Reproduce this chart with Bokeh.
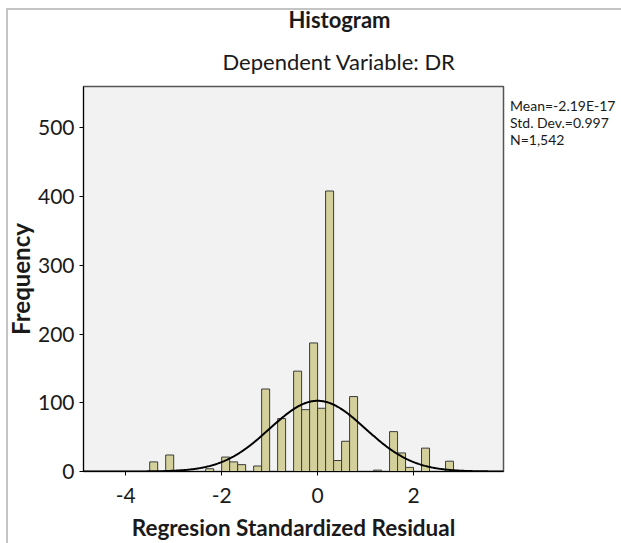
import numpy as np
from bokeh.plotting import figure
from bokeh.models import FixedTicker, Range1d, Title, Legend, LegendItem, PrintfTickFormatter
from bokeh.embed import file_html
from bokeh.resources import INLINE

# ---- data ----
bin_width = 1 / 6
bin_index = [-21, -19, -14, -12, -11, -10, -8, -7, -5, -3, -2, -1, 0, 1, 2, 3, 4, 7, 9, 10, 11, 13, 16]
counts = [14, 24, 4, 21, 14, 10, 8, 120, 77, 146, 90, 187, 92, 408, 16, 44, 109, 2, 58, 27, 6, 34, 15]
x_ticks = [-4, -2, 0, 2]
y_ticks = [0, 100, 200, 300, 400, 500]
stat_mean = -2.19e-17
stat_sd = 0.997
stat_n = 1542
stat_lines = ["Mean=-2.19E-17", "Std. Dev.=0.997", "N=1,542"]
title_text = "Histogram"
subtitle_text = "Dependent Variable: DR"
x_label = "Regresion Standardized Residual"
y_label = "Frequency"

FONT = "Lato"
INK = "#1a1a1a"
X0, X1 = -4.88, 3.875

p = figure(frame_width=420, frame_height=385, output_backend="svg", toolbar_location=None,
           x_range=Range1d(X0, X1), y_range=Range1d(0, 560),
           min_border_left=83, min_border_top=86, min_border_right=117, min_border_bottom=71)
p.styles = {"background": "linear-gradient(#c4c4c4,#c4c4c4) 6px 8px / 2px 100% no-repeat, "
                          "linear-gradient(#c4c4c4,#c4c4c4) 6px 8px / 100% 2px no-repeat, #ffffff"}
p.background_fill_color = "#f2f2f2"
p.border_fill_alpha = 0
p.outline_line_color = "#555555"
p.outline_line_width = 1.5
p.grid.visible = False

# titles (outer: p.title, inner: added title)
p.title.text = title_text
p.title.text_font = FONT
p.title.text_font_size = "22px"
p.title.text_font_style = "bold"
p.title.text_color = INK
p.title.align = "left"
p.title.offset = 205
p.title.standoff = 4
p.add_layout(Title(text=subtitle_text, text_font=FONT, text_font_size="22px",
                   text_font_style="normal", text_color=INK,
                   align="left", offset=139, standoff=23), "above")

left = [i * bin_width for i in bin_index]
right = [(i + 1) * bin_width for i in bin_index]
p.quad(left=left, right=right, bottom=0, top=counts,
       fill_color="#d4d09b", line_color="#3a3a3a", line_width=1)

xs = np.linspace(X0, X1, 500)
ys = stat_n * bin_width * np.exp(-0.5 * ((xs - stat_mean) / stat_sd) ** 2) / (stat_sd * np.sqrt(2 * np.pi))
p.line(xs, ys, line_color="black", line_width=2)

for ax, ticks in ((p.xaxis, x_ticks), (p.yaxis, y_ticks)):
    ax.ticker = FixedTicker(ticks=ticks)
    ax.formatter = PrintfTickFormatter(format="%d")
    ax.minor_tick_line_color = None
    ax.major_tick_in = 0
    ax.major_tick_out = 4
    ax.axis_line_color = "black"
    ax.major_tick_line_color = "black"
    ax.major_label_text_font = FONT
    ax.major_label_text_font_size = "21px"
    ax.major_label_text_color = INK
    ax.axis_label_text_font = FONT
    ax.axis_label_text_font_style = "bold"
    ax.axis_label_text_color = INK
p.xaxis.axis_label = x_label
p.yaxis.axis_label = y_label
p.xaxis.axis_label_text_font_size = "22.5px"
p.yaxis.axis_label_text_font_size = "24px"
p.yaxis.major_label_standoff = 5
p.xaxis.major_label_standoff = 12
p.xaxis.axis_label_standoff = 8
p.yaxis.axis_label_standoff = 0

# statistics text at the right, as a legend of invisible entries
items = []
for t in stat_lines:
    r = p.line(x=[], y=[], line_alpha=0)
    items.append(LegendItem(label=t, renderers=[r]))
leg = Legend(items=items, location="top_left", padding=0, margin=0, spacing=0,
             glyph_width=0, glyph_height=17, label_height=17, label_standoff=7,
             title=" ", title_text_font_size="2px", title_standoff=9,
             border_line_color=None, background_fill_alpha=0,
             label_text_font=FONT, label_text_font_size="14px", label_text_color=INK)
p.add_layout(leg, "right")

open("out.html", "w").write(file_html(p, INLINE))
